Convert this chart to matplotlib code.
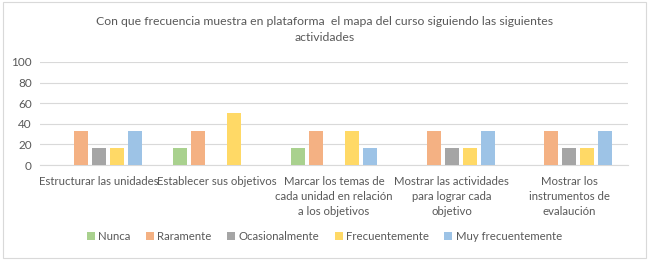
import matplotlib
matplotlib.use("Agg")
import matplotlib.pyplot as plt
import numpy as np
from matplotlib.patches import Rectangle

categories = ["Estructurar las unidades", "Establecer sus objetivos",
              "Marcar los temas de\ncada unidad en relación\na los objetivos",
              "Mostrar las actividades\npara lograr cada\nobjetivo",
              "Mostrar los\ninstrumentos de\nevalaución"]
series_names = ["Nunca", "Raramente", "Ocasionalmente", "Frecuentemente", "Muy frecuentemente"]
nunca = [0, 16.7, 16.7, 0, 0]
raramente = [33.3, 33.3, 33.3, 33.3, 33.3]
ocasionalmente = [16.7, 0, 0, 16.7, 16.7]
frecuentemente = [16.7, 50, 33.3, 16.7, 16.7]
muy_frecuentemente = [33.3, 0, 16.7, 33.3, 33.3]
colors = ["#A9D18E", "#F4B183", "#A5A5A5", "#FFD966", "#9DC3E6"]

series = [nunca, raramente, ocasionalmente, frecuentemente, muy_frecuentemente]

plt.rcParams['font.family'] = ['Lato', 'DejaVu Sans']
txt = "#595959"

fig = plt.figure(figsize=(6.49, 2.60), dpi=100)
fig.patches.append(Rectangle((0.004, 0.008), 0.992, 0.984, transform=fig.transFigure,
                             fill=False, edgecolor="#D9D9D9", linewidth=0.8))
ax = fig.add_axes([0.0616, 0.365, 0.906, 0.397])

x = np.arange(len(categories))
step = 0.153
width = 0.12
for i, (vals, name, c) in enumerate(zip(series, series_names, colors)):
    ax.bar(x + (i - 2) * step, vals, width, color=c, label=name, zorder=3)

ax.set_xlim(-0.5, len(categories) - 0.5)
ax.set_ylim(0, 100)
ax.set_yticks(range(0, 101, 20))
ax.yaxis.grid(True, color="#D9D9D9", linewidth=0.8, zorder=0)
for s in ["top", "right", "left"]:
    ax.spines[s].set_visible(False)
ax.spines["bottom"].set_color("#D9D9D9")
ax.tick_params(axis="both", length=0, colors=txt, labelsize=8.5)
ax.set_xticks(x)
ax.set_xticklabels(categories, fontsize=8.2, color=txt, linespacing=1.45)
ax.tick_params(axis="x", pad=8)
ax.tick_params(axis="y", pad=6)

fig.text(0.5, 0.885, "Con que frecuencia muestra en plataforma  el mapa del curso siguiendo las siguientes\nactividades",
         ha="center", va="center", fontsize=8.8, color=txt, linespacing=1.55)

fig.legend(loc="center", bbox_to_anchor=(0.5, 0.09), ncol=5, frameon=False,
           fontsize=8.2, labelcolor=txt, handlelength=0.7, handleheight=0.7,
           handletextpad=0.3, columnspacing=1.35)

fig.savefig("out.png", dpi=100)
